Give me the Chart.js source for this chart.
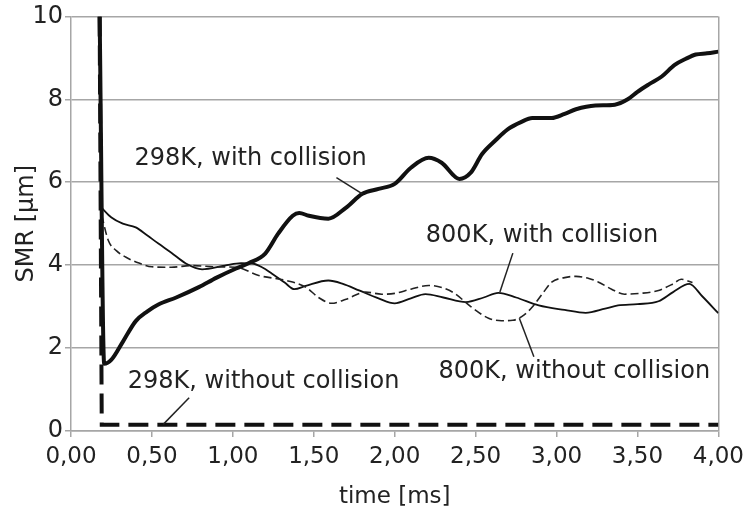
<!DOCTYPE html>
<html>
<head>
<meta charset="utf-8">
<script src="https://cdn.jsdelivr.net/npm/chart.js@4.4.0/dist/chart.umd.min.js"></script>
<style>
html,body{margin:0;padding:0;background:#fff;}
#wrap{width:750px;height:511px;position:relative;}
</style>
</head>
<body>
<div id="wrap"><canvas id="c" width="750" height="511"></canvas></div>
<script>
// ---- data ----
const xTicks = [0, 0.5, 1, 1.5, 2, 2.5, 3, 3.5, 4];
const yTicks = [0, 2, 4, 6, 8, 10];

const t298With = [0.177,0.205,0.25,0.32,0.40,0.47,0.54,0.65,0.79,0.90,1.02,1.10,1.20,1.28,1.37,1.41,1.47,1.59,1.70,1.80,1.90,2.00,2.10,2.21,2.29,2.40,2.47,2.54,2.62,2.70,2.78,2.85,2.97,3.05,3.12,3.24,3.36,3.44,3.50,3.57,3.65,3.73,3.80,3.86,3.93,4.00];
const smr298With = [10,1.62,1.72,2.15,2.65,2.88,3.05,3.22,3.47,3.70,3.92,4.05,4.28,4.76,5.19,5.26,5.19,5.12,5.39,5.72,5.84,5.96,6.35,6.59,6.47,6.08,6.23,6.68,7.00,7.28,7.45,7.55,7.55,7.65,7.76,7.85,7.87,8.00,8.18,8.36,8.55,8.83,8.98,9.08,9.11,9.15];

const t298Without = [0.177,0.19,4.00];
const smr298Without = [10,0.15,0.15];

const t800With = [0.19,0.25,0.32,0.40,0.47,0.54,0.62,0.71,0.81,0.95,1.05,1.12,1.18,1.24,1.32,1.38,1.45,1.59,1.68,1.78,1.90,2.00,2.10,2.19,2.30,2.44,2.55,2.64,2.75,2.89,3.05,3.18,3.30,3.38,3.50,3.63,3.72,3.82,3.90,4.00];
const smr800With = [5.38,5.15,5.00,4.91,4.72,4.52,4.30,4.04,3.90,3.99,4.05,4.04,3.95,3.80,3.58,3.42,3.50,3.63,3.55,3.39,3.20,3.08,3.20,3.30,3.22,3.11,3.22,3.33,3.22,3.03,2.92,2.85,2.95,3.03,3.06,3.13,3.35,3.55,3.25,2.84];

const t800Without = [0.19,0.23,0.28,0.34,0.42,0.50,0.62,0.75,0.89,1.02,1.16,1.33,1.45,1.53,1.61,1.70,1.82,1.92,2.00,2.10,2.21,2.30,2.37,2.47,2.58,2.66,2.73,2.80,2.85,2.92,2.97,3.05,3.12,3.20,3.26,3.34,3.42,3.52,3.63,3.72,3.77,3.84];
const smr800Without = [5.2,4.6,4.35,4.19,4.05,3.96,3.95,3.99,3.96,3.95,3.75,3.63,3.47,3.22,3.08,3.18,3.35,3.30,3.32,3.42,3.51,3.45,3.32,3.00,2.72,2.66,2.67,2.80,2.99,3.35,3.59,3.70,3.73,3.68,3.59,3.42,3.30,3.32,3.39,3.55,3.66,3.58];

// annotation texts with anchor (data coords) and leader line (data coords)
const noteTexts = ["298K, with collision","800K, with collision","800K, without collision","298K, without collision"];
const noteAt = [[1.11,6.56],[2.91,4.71],[3.11,1.43],[1.19,1.19]];
const noteLeader = [[[1.64,6.11],[1.80,5.72]],[[2.73,4.29],[2.65,3.35]],[[2.86,1.79],[2.77,2.72]],[[0.73,0.80],[0.57,0.16]]];

function pts(xs, ys){ return xs.map((x,i)=>({x:x,y:ys[i]})); }

const FONT = "'DejaVu Sans', sans-serif";
const GRID = '#a6a6a6';
const TXT = '#222';

const notesPlugin = {
  id:'notes',
  afterDatasetsDraw(chart){
    const {ctx, scales:{x,y}} = chart;
    ctx.save();
    ctx.fillStyle = TXT;
    ctx.strokeStyle = '#222';
    ctx.lineWidth = 1.5;
    ctx.font = '24px ' + FONT;
    ctx.textAlign = 'center';
    ctx.textBaseline = 'middle';
    noteTexts.forEach((s,i)=>{
      ctx.fillText(s, x.getPixelForValue(noteAt[i][0]), y.getPixelForValue(noteAt[i][1]));
      const L = noteLeader[i];
      ctx.beginPath();
      ctx.moveTo(x.getPixelForValue(L[0][0]), y.getPixelForValue(L[0][1]));
      ctx.lineTo(x.getPixelForValue(L[1][0]), y.getPixelForValue(L[1][1]));
      ctx.stroke();
    });
    ctx.restore();
  }
};

new Chart(document.getElementById('c'), {
  type:'line',
  data:{
    datasets:[
      {label:'298K, without collision', data:pts(t298Without,smr298Without), borderColor:'#111', borderWidth:4, borderDash:[20,9], tension:0, pointRadius:0, order:2},
      {label:'800K, without collision', data:pts(t800Without,smr800Without), borderColor:'#222', borderWidth:1.6, borderDash:[8,4], cubicInterpolationMode:'monotone', pointRadius:0, order:3},
      {label:'800K, with collision', data:pts(t800With,smr800With), borderColor:'#111', borderWidth:1.8, cubicInterpolationMode:'monotone', pointRadius:0, order:4},
      {label:'298K, with collision', data:pts(t298With,smr298With), borderColor:'#111', borderWidth:4, cubicInterpolationMode:'monotone', pointRadius:0, order:1}
    ]
  },
  options:{
    responsive:false,
    animation:false,
    layout:{padding:{top:12.5, right:30, left:0, bottom:0}},
    plugins:{legend:{display:false}, tooltip:{enabled:false}},
    scales:{
      x:{
        type:'linear', min:0, max:4,
        afterBuildTicks(s){ s.ticks = xTicks.map(v=>({value:v})); },
        afterFit(s){ s.height = 80; },
        grid:{
          drawOnChartArea:true,
          color:(c)=> (c.tick && c.tick.value===4) ? GRID : 'rgba(0,0,0,0)',
          lineWidth:1.5,
          tickColor:GRID, tickLength:6, tickWidth:1.5
        },
        border:{display:true, color:GRID, width:1.5},
        ticks:{font:{family:FONT,size:23}, color:TXT, padding:6, maxRotation:0,
          callback:(v)=> Number(v).toFixed(2).replace('.',',')},
        title:{display:true, text:'time [ms]', font:{family:FONT,size:23}, color:TXT, padding:{top:0,bottom:0}}
      },
      y:{
        min:0, max:10,
        afterBuildTicks(s){ s.ticks = yTicks.map(v=>({value:v})); },
        afterFit(s){ s.width = 71; },
        grid:{color:GRID, lineWidth:1.5, tickColor:GRID, tickLength:6, tickWidth:1.5},
        border:{display:true, color:GRID, width:1.5},
        ticks:{font:{family:FONT,size:24}, color:TXT, padding:2},
        title:{display:true, text:'SMR [µm]', font:{family:FONT,size:24}, color:TXT, padding:{top:12,bottom:0}}
      }
    }
  },
  plugins:[notesPlugin]
});
</script>
</body>
</html>
